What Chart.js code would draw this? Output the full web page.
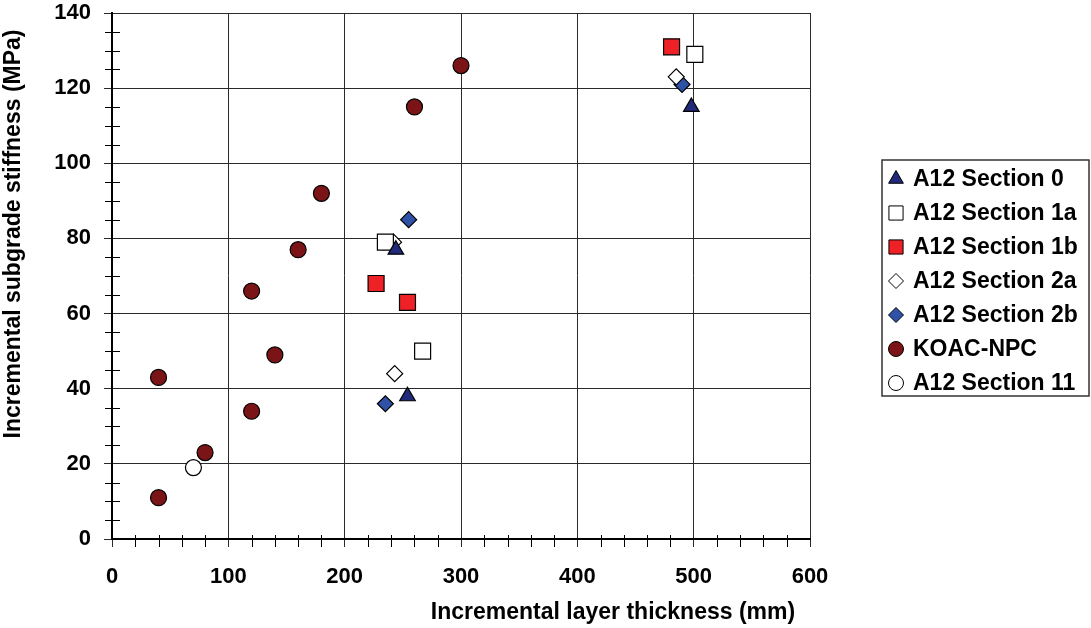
<!DOCTYPE html>
<html>
<head>
<meta charset="utf-8">
<script src="https://cdn.jsdelivr.net/npm/chart.js@4.4.1/dist/chart.umd.min.js"></script>
<style>
  body { margin: 0; background: #fff; }
  canvas { display: block; }
</style>
</head>
<body>
<canvas id="stiffChart" width="1091" height="628"></canvas>
<script>
/* data (x = layer thickness mm, y = subgrade stiffness MPa) */
const sec0X = [244, 254, 498];
const sec0Y = [77, 38, 115];
const sec1aX = [235, 267, 501];
const sec1aY = [79, 50, 129];
const sec1bX = [227, 254, 481];
const sec1bY = [68, 63, 131];
const sec2aX = [242, 243, 485];
const sec2aY = [79, 44, 123];
const sec2bX = [255, 235, 490];
const sec2bY = [85, 36, 121];
const koacX = [40, 40, 80, 120, 120, 140, 160, 180, 260, 300];
const koacY = [11, 43, 23, 34, 66, 49, 77, 92, 115, 126];
const sec11X = [70];
const sec11Y = [19];

const xTicks = [0, 100, 200, 300, 400, 500, 600];
const yTicks = [0, 20, 40, 60, 80, 100, 120, 140];

const xTitle = 'Incremental layer thickness (mm)';
const yTitle = 'Incremental subgrade stiffness (MPa)';

function pts(xs, ys) {
    return xs.map((x, i) => ({ x: x, y: ys[i] }));
}

const series = [
    { label: 'A12 Section 0', xs: sec0X, ys: sec0Y, style: 'triangle', fill: '#202a78', r: 9, lr: 8.5 },
    { label: 'A12 Section 1a', xs: sec1aX, ys: sec1aY, style: 'rect', fill: '#ffffff', r: 11.3, lr: 10 },
    { label: 'A12 Section 1b', xs: sec1bX, ys: sec1bY, style: 'rect', fill: '#ee2226', r: 11.3, lr: 10 },
    { label: 'A12 Section 2a', xs: sec2aX, ys: sec2aY, style: 'rectRot', fill: '#ffffff', r: 8, lr: 7.5 },
    { label: 'A12 Section 2b', xs: sec2bX, ys: sec2bY, style: 'rectRot', fill: '#2f52a6', r: 8, lr: 7.5 },
    { label: 'KOAC-NPC', xs: koacX, ys: koacY, style: 'circle', fill: '#7b1416', r: 8, lr: 7.5 },
    { label: 'A12 Section 11', xs: sec11X, ys: sec11Y, style: 'circle', fill: '#ffffff', r: 8, lr: 7.5 }
];

const family = '"Liberation Sans", Arial, sans-serif';

/* minor ticks + axis titles + boxed legend */
const extras = {
    id: 'extras',
    beforeDatasetsDraw(chart) {
        const ctx = chart.ctx;
        const xs = chart.scales.x, ys = chart.scales.y;
        const a = chart.chartArea;
        ctx.save();
        ctx.strokeStyle = '#000';
        ctx.lineWidth = 1;
        ctx.beginPath();
        for (let v = 20; v < 600; v += 20) {
            if (v % 100 === 0) continue;
            const px = Math.round(xs.getPixelForValue(v)) + 0.5;
            ctx.moveTo(px, a.bottom - 4);
            ctx.lineTo(px, a.bottom + 8);
        }
        for (let v = 5; v < 140; v += 5) {
            if (v % 20 === 0) continue;
            const py = Math.round(ys.getPixelForValue(v)) + 0.5;
            ctx.moveTo(a.left - 7, py);
            ctx.lineTo(a.left + 8, py);
        }
        ctx.stroke();
        ctx.restore();
    },
    afterDraw(chart) {
        const ctx = chart.ctx;
        ctx.save();
        ctx.fillStyle = '#000';
        ctx.font = 'bold 23px ' + family;
        ctx.textAlign = 'center';
        ctx.textBaseline = 'middle';
        ctx.fillText(xTitle, 613, 613);
        ctx.translate(14, 234);
        ctx.rotate(-Math.PI / 2);
        ctx.fillText(yTitle, 0, 0);
        ctx.restore();

        // legend box
        ctx.save();
        ctx.strokeStyle = '#333';
        ctx.lineWidth = 1.5;
        ctx.strokeRect(882, 160, 207, 236);
        ctx.font = 'bold 23px ' + family;
        ctx.textAlign = 'left';
        ctx.textBaseline = 'middle';
        series.forEach((s, i) => {
            const y = 179 + i * 34;
            ctx.fillStyle = s.fill;
            ctx.strokeStyle = '#000';
            ctx.lineWidth = 1;
            Chart.helpers.drawPoint(ctx, { pointStyle: s.style, radius: s.lr, rotation: 0, borderWidth: 1 }, 896, y);
            ctx.fillStyle = '#000';
            ctx.fillText(s.label, 913, y + 1);
        });
        ctx.restore();
    }
};

new Chart(document.getElementById('stiffChart'), {
    type: 'scatter',
    data: {
        datasets: series.map(s => ({
            label: s.label,
            data: pts(s.xs, s.ys),
            pointStyle: s.style,
            pointRadius: s.r,
            pointHoverRadius: s.r,
            backgroundColor: s.fill,
            borderColor: '#000',
            borderWidth: 1.2
        }))
    },
    options: {
        responsive: false,
        animation: false,
        layout: {
            padding: { top: 13, right: 281, left: 0, bottom: 0 }
        },
        plugins: {
            legend: { display: false },
            tooltip: { enabled: false }
        },
        scales: {
            x: {
                type: 'linear',
                min: 0,
                max: 600,
                afterFit(scale) {
                    scale.height = 89;
                    scale.paddingLeft = 0;
                    scale.paddingRight = 0;
                },
                afterBuildTicks(scale) { scale.ticks = xTicks.map(v => ({ value: v })); },
                ticks: {
                    color: '#000',
                    font: { family: family, size: 22, weight: 'bold' },
                    padding: 17,
                    maxRotation: 0
                },
                grid: { color: '#2a2a2a', lineWidth: 1, tickLength: 8 },
                border: { color: '#000', width: 2 }
            },
            y: {
                type: 'linear',
                min: 0,
                max: 140,
                afterFit(scale) {
                    scale.width = 112;
                    scale.paddingTop = 0;
                    scale.paddingBottom = 0;
                },
                afterBuildTicks(scale) { scale.ticks = yTicks.map(v => ({ value: v })); },
                ticks: {
                    color: '#000',
                    font: { family: family, size: 22, weight: 'bold' },
                    padding: 13
                },
                grid: { color: '#2a2a2a', lineWidth: 1, tickLength: 8 },
                border: { color: '#000', width: 2 }
            }
        }
    },
    plugins: [extras]
});
</script>
</body>
</html>
